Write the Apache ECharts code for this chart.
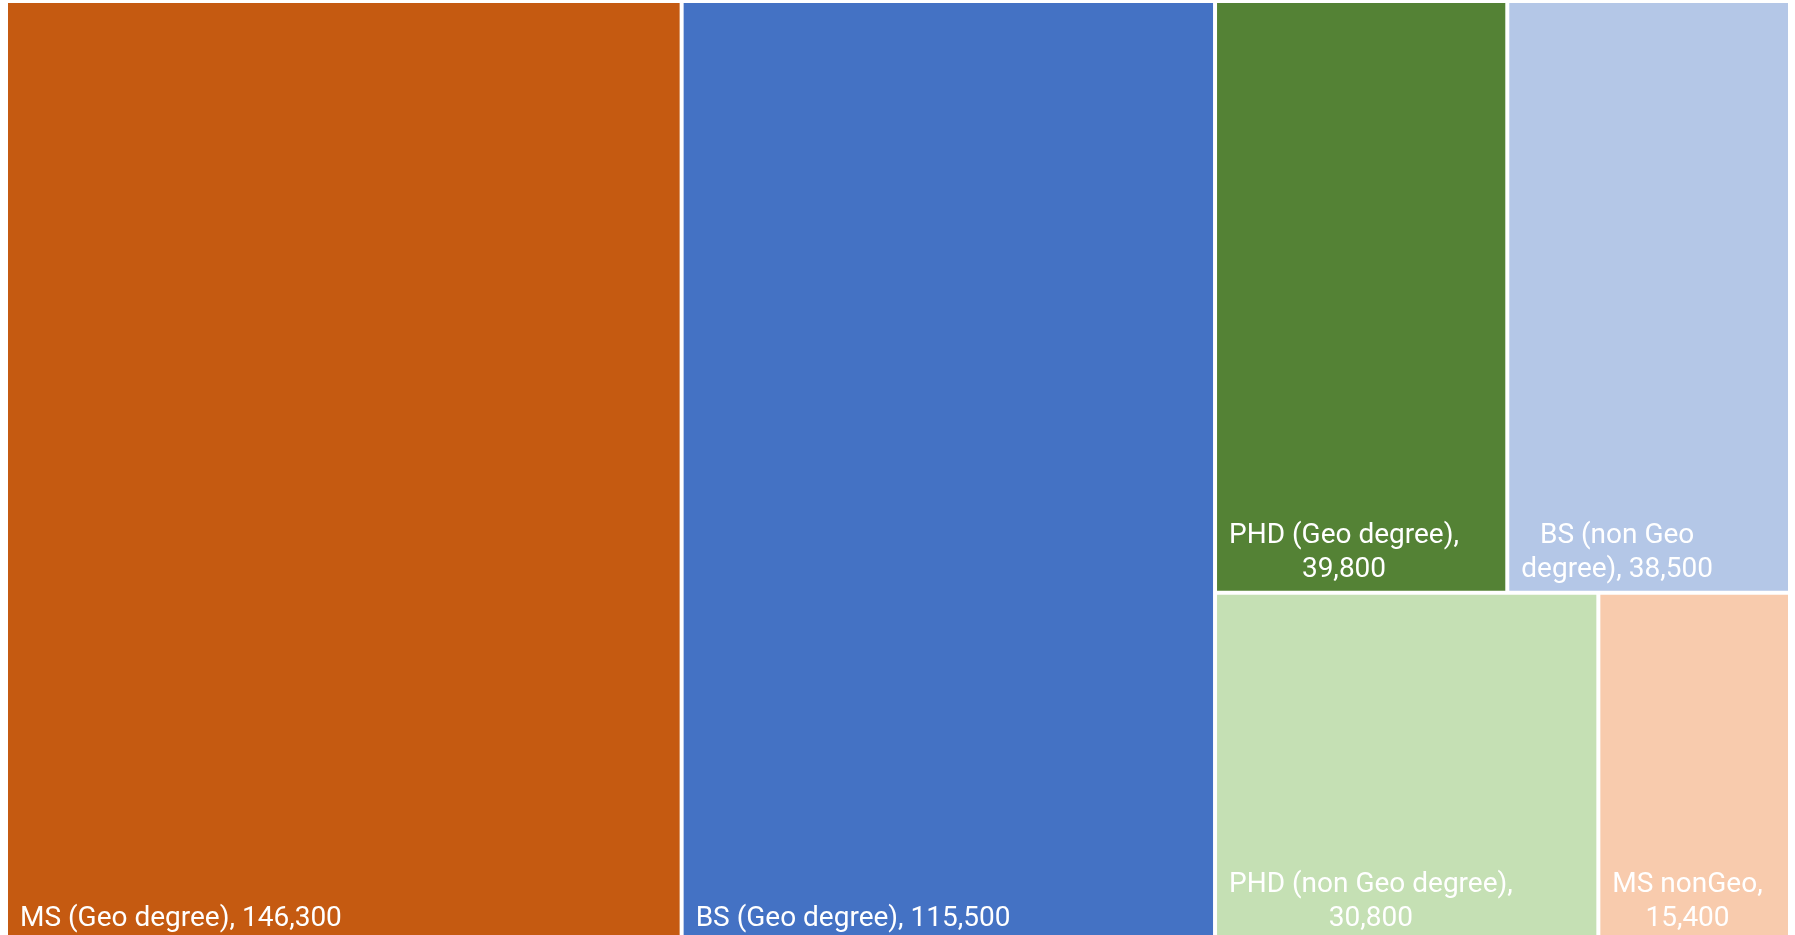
<!DOCTYPE html>
<html>
<head>
<meta charset="utf-8">
<script src="https://cdn.jsdelivr.net/npm/echarts@6/dist/echarts.min.js"></script>
<style>
html,body{margin:0;padding:0;background:#fff;}
#chart{width:1795px;height:935px;}
</style>
</head>
<body>
<div id="chart"></div>
<script>
// ---- data ----
const categories = [
  'MS (Geo degree)',
  'BS (Geo degree)',
  'PHD (Geo degree)',
  'BS (non Geo degree)',
  'PHD (non Geo degree)',
  'MS nonGeo'
];
const values = [146300, 115500, 39800, 38500, 30800, 15400];
// number of words of the label kept on the first line (0 = single line)
const wrapWords = [0, 0, 3, 3, 4, 2];
const colors = ['#C55A11', '#4472C4', '#548235', '#B4C7E7', '#C5E0B4', '#F8CBAD'];

const fmt = v => v.toLocaleString('en-US');

const data = categories.map((name, i) => ({
  name: name,
  value: values[i],
  itemStyle: { color: colors[i] }
}));

const chart = echarts.init(document.getElementById('chart'), null, { renderer: 'canvas' });

const option = {
  animation: false,
  backgroundColor: '#ffffff',
  series: [{
    type: 'treemap',
    left: 8,
    top: 3,
    width: 1780,
    height: 937,
    roam: false,
    nodeClick: false,
    squareRatio: 1.2,
    breadcrumb: { show: false },
    itemStyle: { borderWidth: 0, gapWidth: 4, borderColor: '#ffffff' },
    emphasis: { disabled: true },
    label: {
      show: true,
      position: 'insideBottomLeft',
      distance: 0,
      padding: [0, 0, 4, 12],
      color: '#ffffff',
      fontFamily: 'Roboto',
      fontSize: 28,
      lineHeight: 34,
      formatter: function (p) {
        const i = categories.indexOf(p.name);
        const text = p.name + ', ' + fmt(p.value);
        const n = wrapWords[i];
        let lines = [text];
        if (n > 0) {
          const words = text.split(' ');
          lines = [words.slice(0, n).join(' '), words.slice(n).join(' ')];
        }
        return lines.map(l => '{c|' + l + '}').join('\n');
      },
      rich: {
        c: { align: 'center', color: '#ffffff', fontFamily: 'Roboto', fontSize: 28, lineHeight: 34 }
      }
    },
    data: data
  }]
};

chart.setOption(option);

// Let each label box fit its own text so that the lines centre on each other
function fitLabels() {
  const zr = chart.getZr();
  const visit = el => {
    const t = el.getTextContent && el.getTextContent();
    if (t) {
      t.beforeUpdate = function () {
        if (this.style.width != null || this.style.height != null) {
          this.setStyle({ width: null, height: null });
        }
      };
      t.setStyle({ width: null, height: null });
      t.dirty && t.dirty();
    }
    if (el.isGroup) el.eachChild(visit);
  };
  zr.storage.getRoots().forEach(visit);
  zr.refresh();
}
fitLabels();
</script>
</body>
</html>
